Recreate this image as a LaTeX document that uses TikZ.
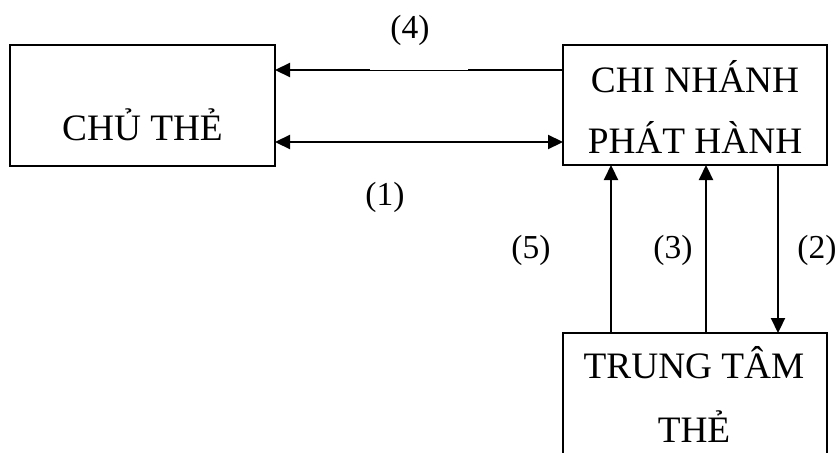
\documentclass[tikz,border=0pt]{standalone}
\usepackage{fontspec}
\setmainfont{Liberation Serif}
\usetikzlibrary{arrows.meta}
\begin{document}
\begin{tikzpicture}[x=1pt,y=-1pt,
  box/.style={draw, line width=1.6pt, inner sep=0pt, outer sep=0pt, anchor=north west},
  txt/.style={inner sep=0pt, font=\fontsize{37.3}{44}\selectfont, anchor=base},
  lbl/.style={inner sep=0pt, font=\fontsize{33.5}{40}\selectfont},
  link/.style={line width=2.2pt},
  thinlink/.style={line width=1pt},
  tip/.style={-{Triangle[length=15pt,width=14pt]}},
  both/.style={{Triangle[length=15pt,width=14pt]}-{Triangle[length=15pt,width=14pt]}}]
\clip (0,0) rectangle (837,452);
\fill[white] (0,0) rectangle (837,452);

% boxes
\node[box, minimum width=265pt, minimum height=121pt] (chu) at (10,45) {};
\node[box, minimum width=264pt, minimum height=120pt] (chi) at (563,45) {};
\node[box, minimum width=264pt, minimum height=140pt] (tt) at (563,333) {};

% box texts
\node[txt] (chuT) at (142.5,140) {CHỦ THẺ};
\node[txt] (chiA) at (695,92) {CHI NHÁNH};
\node[txt] (chiB) at (695,153) {PHÁT HÀNH};
\node[txt] (ttA) at (694,378) {TRUNG TÂM};
\node[txt] (ttB) at (694,442) {THẺ};

% flow labels
\node[lbl] (n4) at (410,30) {(4)};
\node[lbl] (n1) at (385,197) {(1)};
\node[lbl] (n5) at (531,250) {(5)};
\node[lbl] (n3) at (673,250) {(3)};
\node[lbl] (n2) at (817,250) {(2)};

% (4): branch back to the cardholder, thinner in the middle
\coordinate (g1) at (468,70);
\coordinate (g2) at (370,70);
\draw[link] ([yshift=-25pt]chi.north west) -- (g1);
\draw[thinlink] (g1) -- (g2);
\draw[link,tip] (g2) -- ([yshift=-25pt]chu.north east);

% (1): two-way link
\draw[link,both] ([yshift=-97pt]chu.north east) -- ([yshift=-97pt]chi.north west);

% (5), (3): card centre up to branch
\draw[link,tip] ([xshift=48pt]tt.north west) -- ([xshift=48pt]chi.south west);
\draw[link,tip] ([xshift=143pt]tt.north west) -- ([xshift=143pt]chi.south west);
% (2): branch down to card centre
\draw[link,tip] ([xshift=215pt]chi.south west) -- ([xshift=215pt]tt.north west);
\end{tikzpicture}
\end{document}
